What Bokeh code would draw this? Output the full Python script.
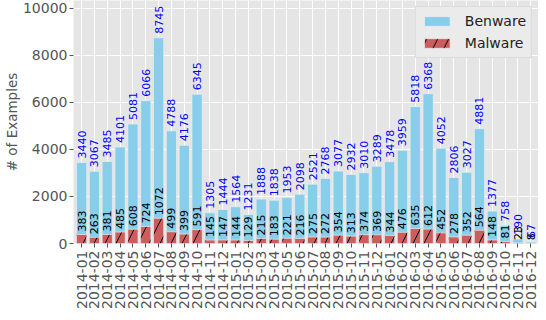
import numpy as np
from bokeh.plotting import figure
from bokeh.models import ColumnDataSource, Range1d, FixedTicker, Legend, LegendItem
from bokeh.embed import file_html
from bokeh.resources import INLINE
from bokeh.core.properties import value

months = ["2014-01", "2014-02", "2014-03", "2014-04", "2014-05", "2014-06",
          "2014-07", "2014-08", "2014-09", "2014-10", "2014-11", "2014-12",
          "2015-01", "2015-02", "2015-03", "2015-04", "2015-05", "2015-06",
          "2015-07", "2015-08", "2015-09", "2015-10", "2015-11", "2015-12",
          "2016-01", "2016-02", "2016-03", "2016-04", "2016-05", "2016-06",
          "2016-07", "2016-08", "2016-09", "2016-10", "2016-11", "2016-12"]
benware = [3440, 3067, 3485, 4101, 5081, 6066, 8745, 4788, 4176, 6345, 1305, 1444,
           1564, 1231, 1888, 1838, 1953, 2098, 2521, 2768, 3077, 2932, 3010, 3289,
           3478, 3959, 5818, 6368, 4052, 2806, 3027, 4881, 1377, 758, 190, 67]
malware = [383, 263, 381, 485, 608, 724, 1072, 499, 399, 591, 145, 147,
           144, 129, 215, 183, 221, 216, 275, 272, 354, 313, 374, 369,
           344, 476, 635, 612, 452, 278, 352, 564, 148, 81, 23, 8]
y_ticks = [0, 2000, 4000, 6000, 8000, 10000]

FONT = "DejaVu Sans"
GRAY = "#555555"

idx = list(range(len(months)))
src = ColumnDataSource(dict(
    x=idx, benware=benware, malware=malware,
    ben_txt=[str(v) for v in benware], mal_txt=[str(v) for v in malware],
))

p = figure(width=538, height=312, output_backend="svg", toolbar_location=None,
           x_range=Range1d(-0.63, 35.6), y_range=Range1d(0, 10330),
           min_border_left=60, min_border_right=0, min_border_top=0, min_border_bottom=69,
           background_fill_color="#E5E5E5", border_fill_color="white",
           outline_line_color=None)

p.xgrid.ticker = FixedTicker(ticks=idx)
p.xgrid.grid_line_color = "white"
p.xgrid.grid_line_width = 1
p.ygrid.ticker = FixedTicker(ticks=y_ticks)
p.ygrid.grid_line_color = "white"
p.ygrid.grid_line_width = 1

p.xaxis.ticker = FixedTicker(ticks=idx)
p.xaxis.major_label_overrides = {i: m for i, m in enumerate(months)}
p.xaxis.major_label_orientation = np.pi / 2
p.yaxis.ticker = FixedTicker(ticks=y_ticks)
p.yaxis.axis_label = "# of Examples"

for ax in (p.xaxis[0], p.yaxis[0]):
    ax.axis_line_color = None
    ax.minor_tick_line_color = None
    ax.major_tick_line_color = GRAY
    ax.major_tick_out = 4
    ax.major_tick_in = 0
    ax.major_label_text_font = FONT
    ax.major_label_text_font_size = "14px"
    ax.major_label_text_color = GRAY
    ax.major_label_standoff = 3
p.yaxis.major_label_standoff = 2
p.yaxis.axis_label_text_font = FONT
p.yaxis.axis_label_text_font_size = "13.5px"
p.yaxis.axis_label_text_font_style = "normal"
p.yaxis.axis_label_text_color = GRAY
p.yaxis.axis_label_standoff = 0

b = p.vbar(x="x", top="benware", width=0.8, source=src, fill_color="#87CEEB",
           line_color="#EEEEEE", line_width=0.7)
m = p.vbar(x="x", top="malware", width=0.8, source=src, fill_color="#CD5C5C",
           line_color="#EEEEEE", line_width=0.7, hatch_pattern="/",
           hatch_color="black", hatch_weight=1, hatch_scale=22)

p.text(x="x", y="benware", text="ben_txt", source=src, angle=np.pi / 2,
       text_align="left", text_baseline="middle", text_color="blue",
       text_font=value(FONT), text_font_size="11px", y_offset=-4)
p.text(x="x", y="malware", text="mal_txt", source=src, angle=np.pi / 2,
       text_align="left", text_baseline="middle", text_color="black",
       text_font=value(FONT), text_font_size="11px", y_offset=-3)

legend = Legend(items=[LegendItem(label="Benware", renderers=[b]),
                       LegendItem(label="Malware", renderers=[m])],
                location="top_right", margin=6, padding=5, spacing=4,
                glyph_width=32, glyph_height=12, label_height=18,
                label_standoff=12,
                label_text_font=FONT, label_text_font_size="14px",
                label_text_color="#222222",
                background_fill_color="#EBEBEB", background_fill_alpha=1,
                border_line_color="#CCCCCC", border_line_width=1)
p.add_layout(legend)

open("out.html", "w").write(file_html(p, INLINE))
